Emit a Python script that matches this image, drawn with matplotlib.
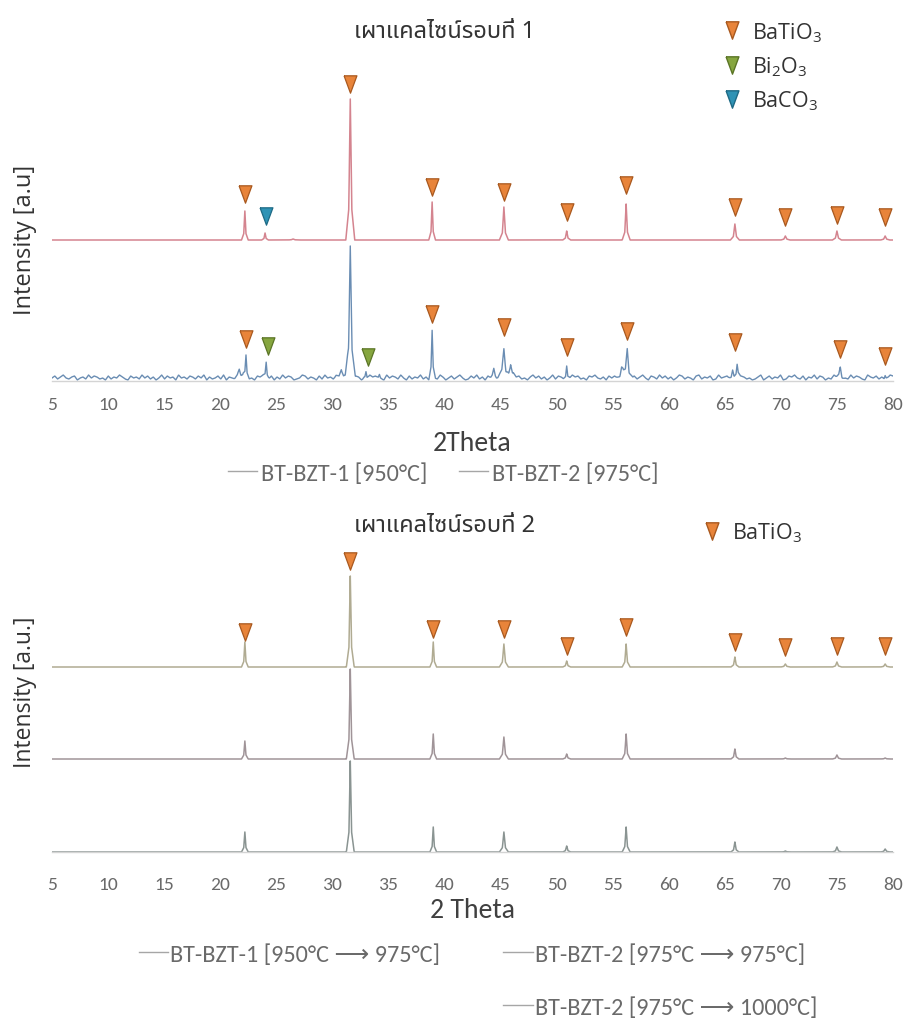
import numpy as np
import matplotlib
matplotlib.use("Agg")
import matplotlib.pyplot as plt
from matplotlib.lines import Line2D
from matplotlib.font_manager import FontProperties

plt.rcParams['mathtext.fontset'] = 'custom'
plt.rcParams['mathtext.rm'] = 'Open Sans'
plt.rcParams['mathtext.it'] = 'Open Sans'

# ---------------- data ----------------
x_ticks = [5, 10, 15, 20, 25, 30, 35, 40, 45, 50, 55, 60, 65, 70, 75, 80]

title1 = "เผาแคลไซน์รอบที่ 1"
title2 = "เผาแคลไซน์รอบที่ 2"
xlabel1 = "2Theta"
xlabel2 = "2 Theta"
ylabel1 = "Intensity [a.u]"
ylabel2 = "Intensity [a.u.]"

# Panel 1 -- BT-BZT-1 [950°C]
red_base = 141
red_pos = [22.2, 24.0, 26.5, 31.6, 38.9, 45.3, 50.9, 56.2, 65.9, 70.4, 75.0, 79.3]
red_h = [29, 7, 1, 141, 38, 33, 9, 36, 16, 4, 9, 4]
red_w = [0.30, 0.30, 0.5, 0.40, 0.30, 0.40, 0.35, 0.35, 0.40, 0.40, 0.40, 0.40]

# Panel 1 -- BT-BZT-2 [975°C]
blue_base = 1
blue_pos = [21.7, 22.3, 24.1, 30.8, 31.6, 33.0, 34.2, 38.9, 44.4, 45.3, 45.9,
            50.9, 55.8, 56.3, 65.7, 66.1, 75.3, 79.3]
blue_h = [8, 22, 16, 10, 133, 7, 4, 46, 7, 30, 14, 14, 10, 30, 10, 12, 10, 4]
blue_w = [0.5, 0.30, 0.30, 0.6, 0.45, 0.3, 0.3, 0.30, 0.4, 0.55, 0.5, 0.3,
          0.5, 0.5, 0.4, 0.3, 0.4, 0.3]
blue_noise = ("24135213402315243120413253104231524130251423052314"
              "31425031241503214253120435214031524301254132041523"
              "14203512430215342105243152041325130421530241352014"
              "25130425134021534120352413025143102534120435213042"
              "42153024135204315241302541320451324015234102543120"
              "13502413250143521403251430215340215243105324130254")

# Panel 1 phase markers
p1_bt_x = [22.2, 31.6, 38.9, 45.3, 50.9, 56.2, 65.9, 70.4, 75.0, 79.3]
p1_bt_y = [187, 297, 194, 189, 169, 196, 174, 164, 166, 164]
p1_baco3_x = [24.1]
p1_baco3_y = [165]
p1b_bt_x = [22.3, 38.9, 45.3, 50.9, 56.3, 65.9, 75.3, 79.3]
p1b_bt_y = [42, 67, 54, 34, 50, 39, 32, 25]
p1b_bi_x = [24.3, 33.2]
p1b_bi_y = [35, 24]

# Panel 2 peaks (shared positions)
p2_pos = [22.2, 31.6, 39.0, 45.3, 50.9, 56.2, 65.9, 70.4, 75.0, 79.3]
p2_w = [0.30, 0.35, 0.30, 0.40, 0.35, 0.35, 0.35, 0.40, 0.40, 0.40]
c1000_base = 185
c1000_h = [25, 91, 25, 23, 6, 23, 10, 3, 5, 3]
c975_base = 93
c975_h = [18, 90, 25, 22, 5, 25, 10, 1, 4, 1]
c950_base = 0
c950_h = [20, 91, 25, 20, 6, 25, 10, 1, 5, 3]
p2_mark_y = [220, 291, 223, 223, 206, 225, 210, 205, 206, 206]

legend1 = ["BT-BZT-1 [950°C]", "BT-BZT-2 [975°C]"]
legend2 = ["BT-BZT-1 [950°C ⟶ 975°C]", "BT-BZT-2 [975°C ⟶ 975°C]",
           "BT-BZT-2 [975°C ⟶ 1000°C]"]
phase_labels = ["BaTiO$_3$", "Bi$_2$O$_3$", "BaCO$_3$"]

# ---------------- helpers ----------------
grid = np.arange(5.0, 80.0001, 0.02)


def profile(pos, h, w):
    y = np.zeros_like(grid)
    for p, hh, ww in zip(pos, h, w):
        y += np.interp(grid, [p - ww, p - ww / 3, p, p + ww / 3, p + ww],
                       [0, 0.22 * hh, hh, 0.22 * hh, 0], left=0, right=0)
    return y


ORANGE = "#e8843a"
ORANGE_E = "#a9591f"
GREEN = "#86a63f"
GREEN_E = "#5b7526"
TEAL = "#2f93b5"
TEAL_E = "#1e6a85"
MS = 12.5
TRI = [(-0.37, 0.5), (0.37, 0.5), (0.0, -0.5), (-0.37, 0.5)]


def markers(ax, x, y, fc, ec):
    ax.plot(x, y, ls='', marker=TRI, ms=MS, mfc=fc, mec=ec, mew=0.9,
            clip_on=False, zorder=5)


tick_font = dict(family='Carlito', size=14)
W, H = 909, 1020
fig = plt.figure(figsize=(W / 100, H / 100), dpi=100)
fig.patch.set_facecolor('white')


def style_axes(ax, top_px, bot_px, pad):
    for s in ['left', 'right', 'top']:
        ax.spines[s].set_visible(False)
    ax.spines['bottom'].set_color('#d4d4d4')
    ax.spines['bottom'].set_linewidth(1.0)
    ax.set_yticks([])
    ax.set_xlim(5, 80)
    ax.set_ylim(0, bot_px - top_px)
    ax.set_xticks(x_ticks)
    ax.set_xticklabels([str(t) for t in x_ticks], fontdict=tick_font, color='#6a6a6a')
    ax.tick_params(axis='x', length=0, pad=pad)
    ax.set_facecolor('none')


def make_axes(top_px, bot_px):
    left = 52 / W
    right = 893 / W
    return fig.add_axes([left, 1 - bot_px / H, right - left, (bot_px - top_px) / H])


PH_FS = 15.5
ph_prop = FontProperties(family='Open Sans', size=PH_FS)

# ---------------- panel 1 ----------------
ax1 = make_axes(80, 382)
style_axes(ax1, 80, 382, 11)
noise = np.array([int(c) for c in blue_noise], dtype=float)
noise_x = np.linspace(5, 80, len(noise))
blue_y = blue_base + np.interp(grid, noise_x, noise) + profile(blue_pos, blue_h, blue_w)
red_y = red_base + profile(red_pos, red_h, red_w)
ax1.plot(grid, blue_y, color='#6a8db3', lw=1.0)
ax1.plot(grid, red_y, color='#d4848f', lw=1.1)
markers(ax1, p1_bt_x, p1_bt_y, ORANGE, ORANGE_E)
markers(ax1, p1_baco3_x, p1_baco3_y, TEAL, TEAL_E)
markers(ax1, p1b_bt_x, p1b_bt_y, ORANGE, ORANGE_E)
markers(ax1, p1b_bi_x, p1b_bi_y, GREEN, GREEN_E)
ax1.set_xlabel(xlabel1, family='Carlito', size=20, color='#404040', labelpad=13)
fig.text(25 / W, 1 - 240 / H, ylabel1, rotation=90, ha='center', va='center',
         family='Open Sans', size=17, color='#333333')
fig.text(445 / W, 1 - 32 / H, title1, ha='center', va='center',
         family=['Noto Sans Thai', 'DejaVu Sans'], size=17, color='#333333')

h_leg = [Line2D([], [], ls='', marker=TRI, ms=MS, mfc=ORANGE, mec=ORANGE_E),
         Line2D([], [], ls='', marker=TRI, ms=MS, mfc=GREEN, mec=GREEN_E),
         Line2D([], [], ls='', marker=TRI, ms=MS, mfc=TEAL, mec=TEAL_E)]
lg = fig.legend(h_leg, phase_labels,
                loc='upper left', bbox_to_anchor=(723 / W, 1 - 21 / H),
                frameon=False, borderpad=0, borderaxespad=0,
                handlelength=0.8, handletextpad=0.55,
                labelspacing=0.5, prop=ph_prop)
for t in lg.get_texts():
    t.set_color('#333333')

gray = '#a6a6a6'
s1 = [Line2D([], [], color=gray, lw=1.0) for _ in legend1]
lg1 = fig.legend(s1, legend1, loc='center', bbox_to_anchor=(443 / W, 1 - 474 / H),
                 ncol=2, frameon=False, handlelength=1.2, handletextpad=0.15,
                 columnspacing=1.3,
                 prop=FontProperties(family=['Carlito', 'DejaVu Sans'], size=17.5))
for t in lg1.get_texts():
    t.set_color('#6a6a6a')

# ---------------- panel 2 ----------------
ax2 = make_axes(550, 853)
style_axes(ax2, 550, 853, 17)
ax2.plot(grid, c950_base + profile(p2_pos, c950_h, p2_w), color='#8a9492', lw=1.1)
ax2.plot(grid, c975_base + profile(p2_pos, c975_h, p2_w), color='#a09498', lw=1.1)
ax2.plot(grid, c1000_base + profile(p2_pos, c1000_h, p2_w), color='#b0ab92', lw=1.1)
markers(ax2, p2_pos, p2_mark_y, ORANGE, ORANGE_E)
ax2.set_xlabel(xlabel2, family='Carlito', size=20, color='#404040', labelpad=4)
fig.text(25 / W, 1 - 692 / H, ylabel2, rotation=90, ha='center', va='center',
         family='Open Sans', size=16.5, color='#333333')
fig.text(445 / W, 1 - 526 / H, title2, ha='center', va='center',
         family=['Noto Sans Thai', 'DejaVu Sans'], size=17, color='#333333')
lg2m = fig.legend([h_leg[0]], phase_labels[:1], loc='center left',
                  bbox_to_anchor=(703 / W, 1 - 533 / H), frameon=False,
                  borderpad=0, borderaxespad=0,
                  handlelength=0.8, handletextpad=0.55, prop=ph_prop)
for t in lg2m.get_texts():
    t.set_color('#333333')

s2 = [Line2D([], [], color=gray, lw=1.0) for _ in legend2]
blank = Line2D([], [], color='none')
lg2 = fig.legend([s2[0], blank, s2[1], s2[2]], [legend2[0], ' ', legend2[1], legend2[2]],
                 loc='upper center', bbox_to_anchor=(478 / W, 1 - 922 / H),
                 ncol=2, frameon=False, handlelength=1.2, handletextpad=0.1,
                 columnspacing=2.6, labelspacing=1.3,
                 prop=FontProperties(family=['Carlito', 'DejaVu Sans'], size=17.5))
for t in lg2.get_texts():
    t.set_color('#6a6a6a')

fig.savefig("out.png", dpi=100, facecolor='white')
